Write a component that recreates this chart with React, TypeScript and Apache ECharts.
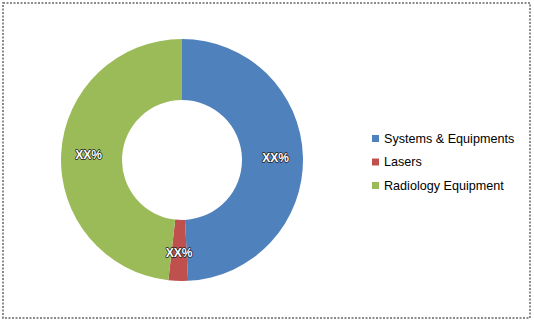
import React, { useEffect, useRef } from "react";
import * as echarts from "echarts";

const categories = ["Systems & Equipments", "Lasers", "Radiology Equipment"];
const values = [49.2, 2.6, 48.2];
const labels = ["XX%", "XX%", "XX%"];
const colors = ["#4F81BD", "#C0504D", "#9BBB59"];

export default function App() {
  const ref = useRef<HTMLDivElement>(null);
  useEffect(() => {
    document.body.style.margin = "0";
    const chart = echarts.init(ref.current!, null, { renderer: "svg" });
    chart.setOption({
      animation: false,
      backgroundColor: "#ffffff",
      graphic: [
        {
          type: "rect",
          shape: { x: 3, y: 3, width: 527, height: 315 },
          style: { fill: "none", stroke: "#8c8c8c", lineWidth: 2, lineDash: [2, 1.5] },
        },
      ],
      legend: {
        orient: "vertical",
        left: 367,
        top: 127,
        itemWidth: 7,
        itemHeight: 7,
        itemGap: 10.5,
        icon: "rect",
        textStyle: { fontFamily: "Liberation Sans, Arial", fontSize: 12.6, color: "#000" },
        data: categories,
      },
      series: [
        {
          type: "pie",
          center: [182, 160],
          radius: [60, 121],
          startAngle: 90,
          clockwise: true,
          silent: true,
          label: {
            show: true,
            position: "inside",
            formatter: (p: any) => labels[p.dataIndex],
            color: "#fff",
            fontFamily: "Liberation Sans, Arial",
            fontSize: 12,
            fontWeight: "bold",
            textBorderColor: "#222",
            textBorderWidth: 1.5,
          },
          labelLine: { show: false },
          data: categories.map((c, i) => ({
            name: c,
            value: values[i],
            itemStyle: { color: colors[i] },
          })),
        },
      ],
    });
    return () => chart.dispose();
  }, []);
  return <div ref={ref} style={{ width: 534, height: 323 }} />;
}
